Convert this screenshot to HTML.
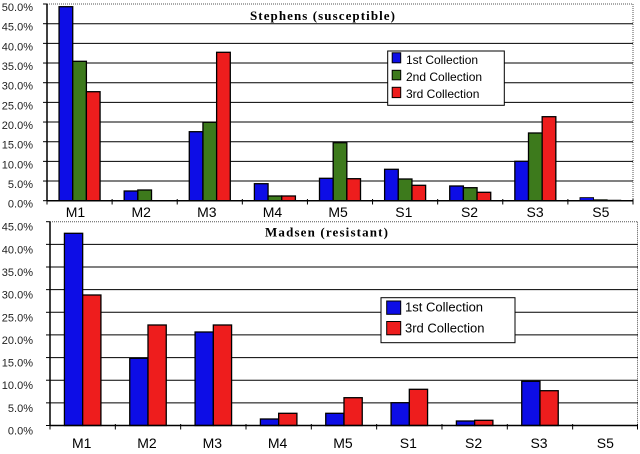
<!DOCTYPE html>
<html><head><meta charset="utf-8"><style>
html,body{margin:0;padding:0;background:#fff;}
svg{display:block;}
text{font-family:"Liberation Sans",Arial,sans-serif;}
.yl{font-size:11px;fill:#222;text-anchor:end;}
.xl{font-size:14px;fill:#000;text-anchor:middle;}
.tt{font-family:"Liberation Serif","Times New Roman",serif;font-size:13px;font-weight:bold;fill:#000;}
.g{stroke:#000;stroke-width:1;}
.b{stroke:#000;stroke-width:1.3;}
.bl{fill:#0d0de6;}.gr{fill:#3d7a1c;}.rd{fill:#ee1d1d;}
</style></head><body>
<svg width="640" height="454" viewBox="0 0 640 454" xmlns="http://www.w3.org/2000/svg">
<rect width="640" height="454" fill="#fff"/>
<!-- TOP CHART -->
<g>
<line x1="47" y1="4" x2="633" y2="4" stroke="#555" stroke-width="1" stroke-dasharray="1,1"/>
<line x1="633" y1="4" x2="633" y2="200.7" stroke="#555" stroke-width="1" stroke-dasharray="1,1"/>
<g class="g">
<line x1="47" y1="181.03" x2="633" y2="181.03"/>
<line x1="47" y1="161.37" x2="633" y2="161.37"/>
<line x1="47" y1="141.7" x2="633" y2="141.7"/>
<line x1="47" y1="122.03" x2="633" y2="122.03"/>
<line x1="47" y1="102.37" x2="633" y2="102.37"/>
<line x1="47" y1="82.7" x2="633" y2="82.7"/>
<line x1="47" y1="63.03" x2="633" y2="63.03"/>
<line x1="47" y1="43.37" x2="633" y2="43.37"/>
<line x1="47" y1="23.7" x2="633" y2="23.7"/>
</g>
<text class="tt" x="250" y="20" textLength="145" lengthAdjust="spacing">Stephens (susceptible)</text>
<!-- bars -->
<g class="b">
<rect class="bl" x="59.06" y="6.7" width="13.67" height="194"/>
<rect class="gr" x="72.73" y="61.3" width="13.67" height="139.4"/>
<rect class="rd" x="86.4" y="91.7" width="13.67" height="109"/>
<rect class="bl" x="124.17" y="191" width="13.67" height="9.7"/>
<rect class="gr" x="137.84" y="190" width="13.67" height="10.7"/>
<rect class="bl" x="189.28" y="131.7" width="13.67" height="69"/>
<rect class="gr" x="202.95" y="122.3" width="13.67" height="78.4"/>
<rect class="rd" x="216.62" y="52.3" width="13.67" height="148.4"/>
<rect class="bl" x="254.39" y="183.7" width="13.67" height="17"/>
<rect class="gr" x="268.06" y="196" width="13.67" height="4.7"/>
<rect class="rd" x="281.73" y="196" width="13.67" height="4.7"/>
<rect class="bl" x="319.5" y="178.3" width="13.67" height="22.4"/>
<rect class="gr" x="333.17" y="142.7" width="13.67" height="58"/>
<rect class="rd" x="346.84" y="178.7" width="13.67" height="22"/>
<rect class="bl" x="384.61" y="169.3" width="13.67" height="31.4"/>
<rect class="gr" x="398.28" y="179" width="13.67" height="21.7"/>
<rect class="rd" x="411.95" y="185.3" width="13.67" height="15.4"/>
<rect class="bl" x="449.72" y="186" width="13.67" height="14.7"/>
<rect class="gr" x="463.39" y="187.7" width="13.67" height="13"/>
<rect class="rd" x="477.06" y="192.3" width="13.67" height="8.4"/>
<rect class="bl" x="514.83" y="161.3" width="13.67" height="39.4"/>
<rect class="gr" x="528.5" y="133" width="13.67" height="67.7"/>
<rect class="rd" x="542.17" y="116.7" width="13.67" height="84"/>
<rect class="bl" x="579.94" y="197.6" width="13.67" height="3.1" stroke-width="0.8"/>
<rect class="gr" x="593.61" y="199.6" width="13.67" height="1.1" stroke-width="0.6"/>
<rect class="rd" x="607.28" y="200" width="13.67" height="0.7" stroke-width="0.5"/>
</g>
<!-- axes -->
<line x1="47" y1="4" x2="47" y2="201" stroke="#000" stroke-width="1.5"/>
<line x1="47" y1="200.7" x2="633" y2="200.7" stroke="#000" stroke-width="1.5"/>
<g class="g">
<line x1="43" y1="4" x2="47" y2="4"/><line x1="43" y1="23.7" x2="47" y2="23.7"/><line x1="43" y1="43.37" x2="47" y2="43.37"/><line x1="43" y1="63.03" x2="47" y2="63.03"/><line x1="43" y1="82.7" x2="47" y2="82.7"/><line x1="43" y1="102.37" x2="47" y2="102.37"/><line x1="43" y1="122.03" x2="47" y2="122.03"/><line x1="43" y1="141.7" x2="47" y2="141.7"/><line x1="43" y1="161.37" x2="47" y2="161.37"/><line x1="43" y1="181.03" x2="47" y2="181.03"/><line x1="43" y1="200.7" x2="47" y2="200.7"/>
<line x1="47" y1="199" x2="47" y2="204.5"/><line x1="112.11" y1="199" x2="112.11" y2="204.5"/><line x1="177.22" y1="199" x2="177.22" y2="204.5"/><line x1="242.33" y1="199" x2="242.33" y2="204.5"/><line x1="307.44" y1="199" x2="307.44" y2="204.5"/><line x1="372.55" y1="199" x2="372.55" y2="204.5"/><line x1="437.66" y1="199" x2="437.66" y2="204.5"/><line x1="502.77" y1="199" x2="502.77" y2="204.5"/><line x1="567.88" y1="199" x2="567.88" y2="204.5"/><line x1="633" y1="199" x2="633" y2="204.5"/>
</g>
<g class="yl">
<text x="33" y="11">50.0%</text><text x="33" y="30.7">45.0%</text><text x="33" y="50.4">40.0%</text><text x="33" y="70">35.0%</text><text x="33" y="89.7">30.0%</text><text x="33" y="109.4">25.0%</text><text x="33" y="129">20.0%</text><text x="33" y="148.7">15.0%</text><text x="33" y="168.4">10.0%</text><text x="33" y="188">5.0%</text><text x="33" y="207.7">0.0%</text>
</g>
<g class="xl">
<text x="75.5" y="217">M1</text><text x="141.2" y="217">M2</text><text x="206.8" y="217">M3</text><text x="272.5" y="217">M4</text><text x="338.1" y="217">M5</text><text x="403.8" y="217">S1</text><text x="469.5" y="217">S2</text><text x="535.1" y="217">S3</text><text x="600.8" y="217">S5</text>
</g>
<!-- legend -->
<rect x="387.7" y="51" width="116.6" height="54.3" fill="#fff" stroke="#000" stroke-width="1"/>
<rect class="bl" x="392.2" y="52.8" width="8.5" height="10" stroke="#000" stroke-width="1"/>
<rect class="gr" x="392.2" y="70.3" width="8.5" height="9.5" stroke="#000" stroke-width="1"/>
<rect class="rd" x="392.2" y="87.3" width="8.5" height="10.3" stroke="#000" stroke-width="1"/>
<text x="406" y="64" font-size="12" fill="#000">1st Collection</text>
<text x="406" y="81" font-size="12" fill="#000">2nd Collection</text>
<text x="406" y="97.8" font-size="12" fill="#000">3rd Collection</text>
</g>

<!-- BOTTOM CHART -->
<g>
<line x1="50" y1="221.7" x2="638" y2="221.7" stroke="#555" stroke-width="1" stroke-dasharray="1,1"/>
<line x1="637.5" y1="221.7" x2="637.5" y2="425.5" stroke="#555" stroke-width="1" stroke-dasharray="1,1"/>
<g class="g">
<line x1="50" y1="402.86" x2="638" y2="402.86"/>
<line x1="50" y1="380.21" x2="638" y2="380.21"/>
<line x1="50" y1="357.57" x2="638" y2="357.57"/>
<line x1="50" y1="334.93" x2="638" y2="334.93"/>
<line x1="50" y1="312.29" x2="638" y2="312.29"/>
<line x1="50" y1="289.64" x2="638" y2="289.64"/>
<line x1="50" y1="267" x2="638" y2="267"/>
<line x1="50" y1="244.36" x2="638" y2="244.36"/>
</g>
<text class="tt" x="265" y="236.5" textLength="123" lengthAdjust="spacing">Madsen (resistant)</text>
<g class="b">
<rect class="bl" x="64.42" y="233.3" width="18.25" height="192.2"/>
<rect class="rd" x="82.67" y="295" width="18.25" height="130.5"/>
<rect class="bl" x="129.75" y="358.3" width="18.25" height="67.2"/>
<rect class="rd" x="148" y="325" width="18.25" height="100.5"/>
<rect class="bl" x="195.08" y="332" width="18.25" height="93.5"/>
<rect class="rd" x="213.33" y="325" width="18.25" height="100.5"/>
<rect class="bl" x="260.41" y="419" width="18.25" height="6.5"/>
<rect class="rd" x="278.66" y="413.3" width="18.25" height="12.2"/>
<rect class="bl" x="325.74" y="413.3" width="18.25" height="12.2"/>
<rect class="rd" x="343.99" y="397.7" width="18.25" height="27.8"/>
<rect class="bl" x="391.07" y="402.7" width="18.25" height="22.8"/>
<rect class="rd" x="409.32" y="389.3" width="18.25" height="36.2"/>
<rect class="bl" x="456.4" y="421" width="18.25" height="4.5"/>
<rect class="rd" x="474.65" y="420.3" width="18.25" height="5.2"/>
<rect class="bl" x="521.73" y="381.3" width="18.25" height="44.2"/>
<rect class="rd" x="539.98" y="390.7" width="18.25" height="34.8"/>
</g>
<line x1="50" y1="221.7" x2="50" y2="426" stroke="#000" stroke-width="1.5"/>
<line x1="50" y1="425.5" x2="638" y2="425.5" stroke="#000" stroke-width="1.5"/>
<g class="g">
<line x1="46" y1="221.7" x2="50" y2="221.7"/><line x1="46" y1="244.36" x2="50" y2="244.36"/><line x1="46" y1="267" x2="50" y2="267"/><line x1="46" y1="289.64" x2="50" y2="289.64"/><line x1="46" y1="312.29" x2="50" y2="312.29"/><line x1="46" y1="334.93" x2="50" y2="334.93"/><line x1="46" y1="357.57" x2="50" y2="357.57"/><line x1="46" y1="380.21" x2="50" y2="380.21"/><line x1="46" y1="402.86" x2="50" y2="402.86"/><line x1="46" y1="425.5" x2="50" y2="425.5"/>
<line x1="50" y1="424" x2="50" y2="429.5"/><line x1="115.33" y1="424" x2="115.33" y2="429.5"/><line x1="180.66" y1="424" x2="180.66" y2="429.5"/><line x1="245.99" y1="424" x2="245.99" y2="429.5"/><line x1="311.32" y1="424" x2="311.32" y2="429.5"/><line x1="376.65" y1="424" x2="376.65" y2="429.5"/><line x1="441.98" y1="424" x2="441.98" y2="429.5"/><line x1="507.31" y1="424" x2="507.31" y2="429.5"/><line x1="572.64" y1="424" x2="572.64" y2="429.5"/><line x1="637.5" y1="424" x2="637.5" y2="429.5"/>
</g>
<g class="yl">
<text x="33" y="230.7">45.0%</text><text x="33" y="253.4">40.0%</text><text x="33" y="276">35.0%</text><text x="33" y="298.6">30.0%</text><text x="33" y="321.3">25.0%</text><text x="33" y="343.9">20.0%</text><text x="33" y="366.6">15.0%</text><text x="33" y="389.2">10.0%</text><text x="33" y="411.9">5.0%</text><text x="33" y="434.5">0.0%</text>
</g>
<g class="xl">
<text x="81.7" y="448">M1</text><text x="147" y="448">M2</text><text x="212.3" y="448">M3</text><text x="277.6" y="448">M4</text><text x="343" y="448">M5</text><text x="408.3" y="448">S1</text><text x="473.6" y="448">S2</text><text x="539" y="448">S3</text><text x="605.3" y="448">S5</text>
</g>
<rect x="381" y="297.7" width="134" height="45" fill="#fff" stroke="#000" stroke-width="1"/>
<rect class="bl" x="386.7" y="301" width="14" height="13.3" stroke="#000" stroke-width="1"/>
<rect class="rd" x="386.7" y="321.5" width="14" height="13.3" stroke="#000" stroke-width="1"/>
<text x="405" y="311.7" font-size="13" fill="#000">1st Collection</text>
<text x="405" y="332.3" font-size="13" fill="#000">3rd Collection</text>
</g>
</svg>
</body></html>
